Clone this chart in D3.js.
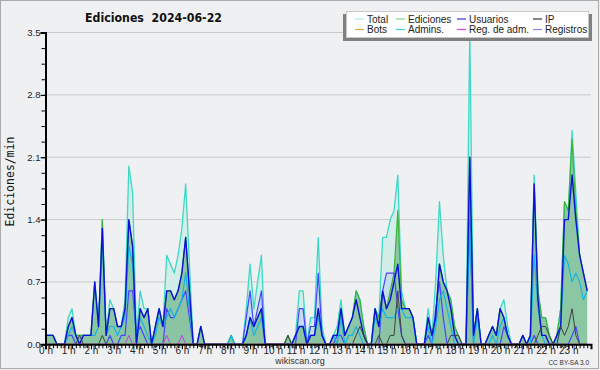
<!DOCTYPE html>
<html lang="es">
<head>
<meta charset="UTF-8">
<title>Ediciones 2024-06-22</title>
<script src="https://cdn.jsdelivr.net/npm/d3@7"></script>
<style>
  body { margin: 0; background: #f0f0f0; }
  svg { display: block; }
</style>
</head>
<body>
<script>
// 10-minute bins, one row per hour (00 h .. 23 h), values in edits/min
const total = [
  0.1,0.1,0.1,0,0,0,  0.3,0.4,0.1,0.1,0.1,0.1,  0.1,0.7,0.2,1.4,0.1,0.5,  0.4,0.2,0.2,0.5,2.0,1.7,
  0.1,0.6,0.4,0.4,0,0.2,  0.4,0.2,1.0,0.9,0.8,1.0,  1.3,1.8,0.9,0,0,0.2,  0,0,0,0,0,0,
  0,0.1,0,0,0,0.4,  0.9,0.4,0.7,1.0,0,0,  0,0,0,0,0.1,0,  0.1,0.6,0.6,0,0.3,0.3,
  1.2,0.2,0,0,0.1,0.2,  0.5,0.1,0.2,0.3,0.6,0.5,  0.2,0,0,0.4,0.3,1.2,  1.2,1.4,1.5,1.9,0.6,0.4,
  0.4,0.3,0,0,0,0.4,  0.1,0.7,1.6,1.0,0.6,0.5,  0.2,0.1,0,0,3.5,0.1,  0.4,0,0,0.1,0.2,0.1,
  0.4,0.5,0.2,0,0,0,  0.1,0,0.1,1.9,0.6,0.3,  0.3,0.1,0,0.1,0.4,1.6,  1.5,2.4,1.7,1.0,0.8,0.6
];
const edits = [
  0.1,0.1,0.1,0,0,0,  0.2,0.3,0.1,0.1,0.1,0.1,  0.1,0.7,0.2,1.4,0.1,0.4,  0.4,0.2,0.2,0.4,1.4,1.1,
  0,0.4,0.3,0.4,0,0.2,  0.4,0.2,0.6,0.6,0.5,0.6,  0.8,1.2,0.6,0,0,0.2,  0,0,0,0,0,0,
  0,0.1,0,0,0,0.1,  0.3,0.2,0.3,0.4,0,0,  0,0,0,0,0.1,0,  0.1,0.2,0.2,0,0.1,0.1,
  0.4,0.1,0,0,0.1,0.1,  0.4,0.1,0.2,0.3,0.6,0.5,  0.2,0,0,0.4,0.3,0.6,  0.4,0.6,0.8,1.5,0.5,0.4,
  0.4,0.3,0,0,0,0.3,  0.1,0.3,0.9,0.7,0.6,0.5,  0.2,0.1,0,0,2.1,0.1,  0.4,0,0,0.1,0.2,0.1,
  0.4,0.3,0.1,0,0,0,  0.1,0,0.1,1.8,0.6,0.3,  0.3,0.1,0,0.1,0.4,1.6,  1.5,2.3,1.5,1.0,0.8,0.6
];
const users = [
  0.1,0.1,0.1,0,0,0,  0.2,0.3,0.1,0,0.1,0.1,  0.1,0.7,0.2,1.3,0.1,0.4,  0.4,0.2,0.2,0.4,1.4,1.1,
  0,0.4,0.3,0.4,0,0.2,  0.4,0.2,0.6,0.6,0.5,0.6,  0.8,1.2,0.6,0,0,0.2,  0,0,0,0,0,0,
  0,0,0,0,0,0.1,  0.3,0.2,0.3,0.4,0,0,  0,0,0,0,0,0,  0.1,0.2,0.2,0,0.1,0.1,
  0.4,0.1,0,0,0.1,0.1,  0.4,0.1,0.2,0.3,0.5,0.3,  0.1,0,0,0.4,0.2,0.6,  0.4,0.5,0.7,0.9,0.4,0.4,
  0.4,0.3,0,0,0,0.3,  0.1,0.3,0.9,0.7,0.6,0.4,  0.1,0,0,0,2.1,0.1,  0.4,0,0,0.1,0.2,0.1,
  0.4,0.3,0.1,0,0,0,  0.1,0,0.1,1.8,0.5,0.1,  0.1,0,0,0.1,0.2,1.4,  1.4,1.9,1.4,1.0,0.8,0.6
];
const ip = [
  0,0,0,0,0,0,  0,0,0,0.1,0,0,  0,0,0,0.1,0,0,  0,0,0,0,0,0,
  0,0,0,0,0,0,  0,0,0,0,0,0,  0,0,0,0,0,0,  0,0,0,0,0,0,
  0,0,0,0,0,0,  0,0,0,0,0,0,  0,0,0,0,0.1,0,  0,0,0,0,0,0,
  0,0,0,0,0,0,  0,0,0,0,0.1,0.2,  0.1,0,0,0,0.1,0,  0,0.1,0.1,0.6,0.1,0,
  0,0,0,0,0,0,  0,0,0,0,0,0.1,  0.1,0.1,0,0,0,0,  0,0,0,0,0,0,
  0,0,0,0,0,0,  0,0,0,0,0.1,0.2,  0.2,0.1,0,0,0.2,0.1,  0.2,0.4,0.1,0,0,0
];
const bots = new Array(144).fill(0);
const admins = [
  0.1,0.1,0.1,0,0,0,  0.1,0.2,0.1,0,0.1,0.1,  0.1,0.1,0.2,1.2,0.1,0.2,  0.2,0.1,0.2,0.3,1.1,0.9,
  0,0.3,0.2,0.1,0,0.1,  0.3,0.2,0.3,0.4,0.3,0.4,  0.5,0.8,0.4,0,0,0,  0,0,0,0,0,0,
  0,0.1,0,0,0,0.1,  0.3,0.1,0.2,0.3,0,0,  0,0,0,0,0,0,  0.1,0.2,0.2,0,0.1,0.1,
  0.3,0.1,0,0,0.1,0,  0.3,0,0.1,0.1,0.2,0.1,  0,0,0,0.3,0.2,0.4,  0.3,0.3,0.3,0.4,0.4,0.3,
  0.3,0.3,0,0,0,0.2,  0,0.2,0.5,0.6,0.4,0.2,  0,0,0,0,1.4,0,  0.3,0,0,0,0.1,0,
  0.2,0.3,0.1,0,0,0,  0,0,0,1.0,0.4,0.1,  0,0,0,0,0.2,1.0,  0.9,0.7,0.8,0.7,0.5,0.6
];
const adminLogs = [
  0,0,0,0,0,0,  0,0,0,0,0,0,  0,0,0,0,0,0,  0,0,0,0,0.1,0,
  0,0,0,0,0,0,  0,0,0.1,0,0,0,  0.1,0,0,0,0,0,  0,0,0,0,0,0,
  0,0,0,0,0,0,  0,0,0,0,0,0,  0,0,0,0,0,0,  0,0,0,0,0,0,
  0,0,0,0,0,0,  0,0,0,0,0,0,  0,0,0,0,0,0,  0,0,0,0,0,0,
  0,0,0,0,0,0,  0,0,0,0,0,0,  0,0,0,0,0,0,  0,0,0,0,0,0,
  0,0,0,0,0,0,  0,0,0,0,0,0,  0,0,0,0,0,0,  0,0,0,0,0,0
];
const logs = [
  0,0,0,0,0,0,  0.1,0.1,0,0,0,0,  0,0,0,0,0,0.1,  0,0,0.1,0.1,0.6,0.6,
  0.1,0.2,0.1,0,0,0,  0,0,0.4,0.3,0.3,0.4,  0.5,0.6,0.3,0,0,0,  0,0,0,0,0,0,
  0,0,0,0,0,0.3,  0.6,0.2,0.4,0.6,0,0,  0,0,0,0,0,0,  0,0.4,0.4,0,0.2,0.2,
  0.8,0.1,0,0,0,0.1,  0.1,0,0,0,0,0,  0,0,0,0,0,0.6,  0.8,0.8,0.8,0.4,0.1,0,
  0,0,0,0,0,0.1,  0,0.4,0.7,0.3,0,0,  0,0,0,0,1.4,0,  0,0,0,0,0,0,
  0,0.2,0.1,0,0,0,  0,0,0,0.1,0,0,  0,0,0,0,0,0,  0,0.1,0.2,0,0,0
];
const hourTicks = d3.range(24);
const valueTicks = [0, 0.7, 1.4, 2.1, 2.8, 3.5];

const legendItems = [
  { name: 'Total', color: '#a6ecec' }, { name: 'Ediciones', color: '#84d884' },
  { name: 'Usuarios', color: '#3434ee' }, { name: 'IP', color: '#333333' },
  { name: 'Bots', color: '#f4a43a' }, { name: 'Admins.', color: '#38d4e6' },
  { name: 'Reg. de adm.', color: '#e040f0' }, { name: 'Registros', color: '#8484ff' }
];

const width = 600, height = 370;
const svg = d3.select('body').append('svg')
  .attr('width', width).attr('height', height)
  .style('font-family', '"Liberation Sans", Arial, sans-serif');

svg.append('rect').attr('x', 0.5).attr('y', 0.5)
  .attr('width', 598).attr('height', 368)
  .attr('fill', '#eff0f1').attr('stroke', '#a9a9a9');

// scales
const x = d3.scaleLinear().domain([0, 24]).range([45.5, 591]);
const y = d3.scaleLinear().domain([0, 3.5]).range([344.3, 32.5]);

const pts = arr => arr.map((v, i) => [i / 6, v]);
const area = d3.area().x(d => x(d[0])).y0(y(0)).y1(d => y(d[1]));
const line = d3.line().x(d => x(d[0])).y(d => y(d[1]));

// grid
svg.append('g').selectAll('line')
  .data(valueTicks.slice(1))
  .join('line')
  .attr('x1', x(0)).attr('x2', x(24))
  .attr('y1', d => y(d)).attr('y2', d => y(d))
  .attr('stroke', '#c9c9c9').attr('stroke-width', 1);

// areas
svg.append('path').attr('d', area(pts(total))).attr('fill', '#d3eee8');
svg.append('path').attr('d', area(pts(logs))).attr('fill', '#b4c8f0').attr('fill-opacity', 0.45);
svg.append('path').attr('d', area(pts(edits))).attr('fill', '#7fbf96').attr('fill-opacity', 0.85);

// lines
const lines = [
  [total, '#3ed8c6', 1.3],
  [edits, '#3cb43c', 1.2],
  [logs, '#4646ff', 1.2],
  [admins, '#14b4e6', 1.2],
  [users, '#0c10d6', 1.4],
  [ip, '#404040', 1],
  [adminLogs, '#c040e0', 1],
  [bots, '#f4a43a', 1]
];
lines.forEach(([arr, c, w]) => {
  svg.append('path').attr('d', line(pts(arr)))
    .attr('fill', 'none').attr('stroke', c).attr('stroke-width', w)
    .attr('stroke-linejoin', 'round');
});

// y axis
svg.append('g')
  .attr('transform', 'translate(' + x(0) + ',0)')
  .call(d3.axisLeft(y).tickValues(d3.range(0, 3.51, 0.175)).tickSize(4).tickFormat(''))
  .call(g => g.select('.domain').remove());
const yAxis = svg.append('g')
  .attr('transform', 'translate(' + x(0) + ',0)')
  .call(d3.axisLeft(y).tickValues(valueTicks).tickSize(5).tickFormat(d3.format('.1f')));
yAxis.select('.domain').attr('stroke-width', 2);
yAxis.selectAll('text').attr('font-size', 9.5).attr('fill', '#222').attr('x', -5);

// x axis
svg.append('g')
  .attr('transform', 'translate(0,' + y(0) + ')')
  .call(d3.axisBottom(x).tickValues(d3.range(0, 24.01, 1 / 6)).tickSize(4).tickFormat(''))
  .call(g => g.select('.domain').remove());
const xAxis = svg.append('g')
  .attr('transform', 'translate(0,' + y(0) + ')')
  .call(d3.axisBottom(x).tickValues(hourTicks).tickSize(5).tickFormat(d => d + ' h'));
xAxis.select('.domain').attr('stroke-width', 2);
xAxis.selectAll('text').attr('font-size', 10).attr('fill', '#222').attr('y', 3).attr('dy', '0.71em');

// title
svg.append('text')
  .attr('x', 85).attr('y', 21.5)
  .attr('font-family', '"DejaVu Sans", sans-serif')
  .attr('font-weight', 'bold').attr('font-size', 12.5)
  .attr('textLength', 137).attr('lengthAdjust', 'spacingAndGlyphs')
  .attr('fill', '#111')
  .style('white-space', 'pre')
  .text('Ediciones  2024-06-22');

// y label
svg.append('text')
  .attr('transform', 'translate(14,181.5) rotate(-90)')
  .attr('text-anchor', 'middle')
  .attr('font-family', '"DejaVu Sans Mono", monospace')
  .attr('font-size', 11.5).attr('fill', '#111')
  .text('Ediciones/min');

// legend
svg.append('rect').attr('x', 343).attr('y', 14).attr('width', 249).attr('height', 27).attr('fill', '#808080');
svg.append('rect').attr('x', 346.5).attr('y', 11.5).attr('width', 242).attr('height', 26)
  .attr('fill', '#ffffff').attr('stroke', '#c8c8c8');
const colX = [367, 408, 469, 545];
const leg = svg.append('g').selectAll('g')
  .data(legendItems)
  .join('g')
  .attr('transform', (d, i) => 'translate(' + colX[i % 4] + ',' + (i < 4 ? 19 : 29.5) + ')');
leg.append('line').attr('x1', -12).attr('x2', -3).attr('stroke', d => d.color).attr('stroke-width', 1.2);
leg.append('text').attr('y', 3.6).attr('font-size', 10).attr('fill', '#222').text(d => d.name);

// footer
svg.append('text').attr('x', 300).attr('y', 364).attr('text-anchor', 'middle')
  .attr('font-size', 9).attr('fill', '#333').text('wikiscan.org');
svg.append('text').attr('x', 589).attr('y', 365).attr('text-anchor', 'end')
  .attr('font-size', 6.5).attr('fill', '#333').text('CC BY-SA 3.0');
</script>
</body>
</html>
